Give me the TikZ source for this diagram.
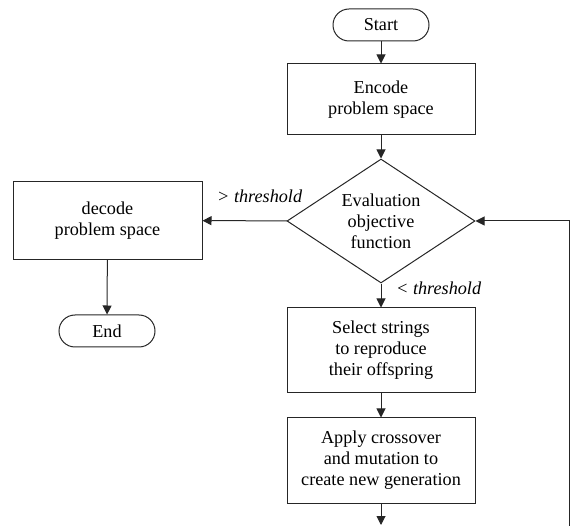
\documentclass[tikz,border=0pt]{standalone}
\usepackage{fontspec}
\setmainfont{Liberation Serif}
\usetikzlibrary{arrows.meta,shapes.geometric}
\begin{document}
\begin{tikzpicture}[x=1pt,y=-1pt,
  every node/.style={font=\fontsize{18.2}{21}\selectfont, align=center, inner sep=0pt},
  line/.style={line width=1pt, draw=black!85},
  flowbox/.style={line, rectangle, minimum width=188pt, minimum height=85pt},
  terminal/.style={line, rectangle, rounded corners=16pt, minimum width=96pt, minimum height=32pt},
  decision/.style={line, diamond, aspect=1.5, minimum width=188pt, minimum height=124pt},
  flow/.style={line, -{Triangle[length=9pt,width=9pt]}},
  cond/.style={font=\fontsize{18.2}{21}\selectfont\itshape, anchor=west}
]
\useasboundingbox (0,0) rectangle (573,526);

% main column
\node[terminal] (start) at (381,25) {Start};
\node[flowbox, minimum height=71pt] (encode) at (381,99.5) {Encode\\problem space};
\node[decision] (eval) at (381,221) {Evaluation\\objective\\function};
\node[flowbox] (select) at (381,350.5) {Select strings\\to reproduce\\their offspring};
\node[flowbox] (apply) at (381,460.5) {Apply crossover\\and mutation to\\create new generation};

% exit branch
\node[flowbox, minimum width=189pt, minimum height=78pt] (decode) at (107.5,220.5) {decode\\problem space};
\node[terminal] (end) at (107,331) {End};

% loop return points
\coordinate (bottom) at (381,525);
\coordinate (loopfoot) at (569,526);
\coordinate (loopcorner) at (569,221);

\draw[flow] (start) -- (encode);
\draw[flow] (encode) -- (eval);
\draw[flow] (eval) -- (select);
\draw[flow] (select) -- (apply);
\draw[flow] (apply) -- (bottom);
\draw[flow] (eval) -- (decode);
\draw[flow] (decode) -- (end);
\draw[flow] (loopfoot) -- (loopcorner) -- (eval.east);

% branch conditions
\node[cond] (gt) at (217,196) {> threshold};
\node[cond] (lt) at (396,288) {< threshold};
\end{tikzpicture}
\end{document}
